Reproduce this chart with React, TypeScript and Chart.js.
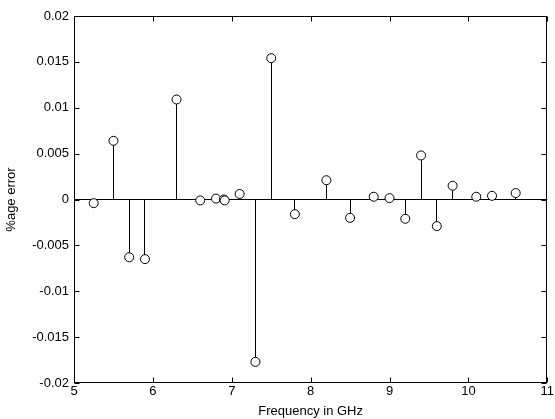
import React, { useEffect, useRef } from "react";
import { Chart, registerables } from "chart.js";
Chart.register(...registerables);

const frequencies = [5.25, 5.5, 5.7, 5.9, 6.3, 6.6, 6.8, 6.9, 6.91, 7.1, 7.3, 7.5, 7.8, 8.2, 8.5, 8.8, 9.0, 9.2, 9.4, 9.6, 9.8, 10.1, 10.3, 10.6];
const errors = [-0.0004, 0.0064, -0.0063, -0.0065, 0.0109, -0.0001, 0.0001, 0.0, -0.0001, 0.0006, -0.0177, 0.0154, -0.0016, 0.0021, -0.002, 0.0003, 0.00015, -0.0021, 0.0048, -0.0029, 0.0015, 0.0003, 0.0004, 0.0007];
const xTicks = [5, 6, 7, 8, 9, 10, 11];
const yTicks = [-0.02, -0.015, -0.01, -0.005, 0, 0.005, 0.01, 0.015, 0.02];
const xLabel = "Frequency in GHz";
const yLabel = "%age error";

const FONT = "'Liberation Sans', Arial, sans-serif";

const snapPlugin = {
  id: "snapStems",
  beforeDatasetDraw(chart: any, args: any) {
    const meta = args.meta;
    if (meta.type !== "bar") return;
    meta.data.forEach((el: any) => {
      el.x = Math.floor(el.x) + 0.5;
    });
  },
};

const boxPlugin = {
  id: "matlabBox",
  afterDraw(chart: any) {
    const { ctx, chartArea: a, scales } = chart;
    ctx.save();
    ctx.strokeStyle = "#000";
    ctx.lineWidth = 1;
    const L = Math.round(a.left) + 0.5, R = Math.round(a.right) - 0.5;
    const T = Math.round(a.top) + 0.5, B = Math.round(a.bottom) - 0.5;
    ctx.strokeRect(L, T, R - L, B - T);
    const tl = 5;
    ctx.beginPath();
    xTicks.forEach((v) => {
      const px = Math.round(scales.x.getPixelForValue(v)) + 0.5;
      ctx.moveTo(px, B); ctx.lineTo(px, B - tl);
      ctx.moveTo(px, T); ctx.lineTo(px, T + tl);
    });
    yTicks.forEach((v) => {
      const py = Math.round(scales.y.getPixelForValue(v)) + 0.5;
      ctx.moveTo(L, py); ctx.lineTo(L + tl, py);
      ctx.moveTo(R, py); ctx.lineTo(R - tl, py);
    });
    ctx.stroke();
    ctx.restore();
  },
};

export default function App() {
  const ref = useRef<HTMLCanvasElement>(null);
  useEffect(() => {
    document.body.style.margin = "0";
    const points = frequencies.map((f, i) => ({ x: f, y: errors[i] }));
    const chart = new Chart(ref.current!, {
      type: "scatter",
      data: {
        datasets: [
          {
            type: "scatter",
            data: points,
            pointStyle: "circle",
            pointRadius: 4.5,
            pointBorderWidth: 1,
            pointBorderColor: "#000",
            pointBackgroundColor: "#fff",
            showLine: false,
            order: 1,
          } as any,
          {
            type: "bar",
            data: points,
            backgroundColor: "#000",
            borderWidth: 0,
            barThickness: 1,
            inflateAmount: 0,
            order: 2,
          } as any,
        ],
      },
      options: {
        animation: false,
        responsive: false,
        events: [],
        layout: { padding: { top: 16, right: 4, left: 0, bottom: 0 } },
        plugins: { legend: { display: false }, tooltip: { enabled: false } },
        scales: {
          x: {
            type: "linear",
            min: 5,
            max: 11,
            offset: false,
            afterFit: (s: any) => { s.height = 36; },
            afterBuildTicks: (s: any) => { s.ticks = xTicks.map((v) => ({ value: v })); },
            grid: { display: false, drawTicks: false },
            border: { display: false },
            ticks: { color: "#000", padding: 1, font: { family: FONT, size: 13 }, maxRotation: 0 },
            title: { display: true, text: xLabel, color: "#000", font: { family: FONT, size: 13 }, padding: { top: 0, bottom: 0 } },
          },
          y: {
            type: "linear",
            min: -0.02,
            max: 0.02,
            afterFit: (s: any) => { s.width = 74; },
            afterBuildTicks: (s: any) => { s.ticks = yTicks.map((v) => ({ value: v })); },
            grid: {
              drawTicks: false,
              color: (c: any) => (c.tick && Math.abs(c.tick.value) < 1e-9 ? "#000" : "rgba(0,0,0,0)"),
              lineWidth: 1,
            },
            border: { display: false },
            ticks: {
              color: "#000",
              padding: 5,
              font: { family: FONT, size: 13 },
              callback: (v: any) => String(Number(Number(v).toFixed(3))),
            },
            title: { display: true, text: yLabel, color: "#000", font: { family: FONT, size: 13 }, padding: { top: 4, bottom: 0 } },
          },
        },
      },
      plugins: [snapPlugin, boxPlugin],
    });
    return () => chart.destroy();
  }, []);
  return <canvas ref={ref} width={555} height={419} style={{ display: "block", background: "#fff" }} />;
}
